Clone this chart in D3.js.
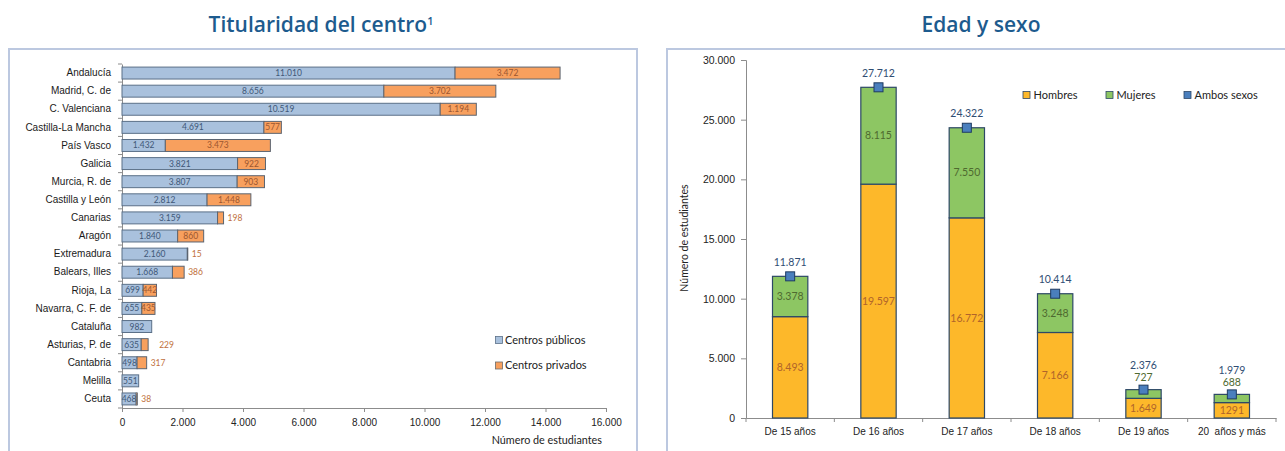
<!DOCTYPE html>
<html>
<head>
<meta charset="utf-8">
<script src="https://cdn.jsdelivr.net/npm/d3@7"></script>
<style>
  body { margin: 0; background: #fff; }
  svg { font-family: Lato, "Open Sans", sans-serif; display: block; }
</style>
</head>
<body>
<svg width="1285" height="451"></svg>
<script>
// left chart: titularidad del centro
var regions = ['Andalucía', 'Madrid, C. de', 'C. Valenciana', 'Castilla-La Mancha', 'País Vasco',
  'Galicia', 'Murcia, R. de', 'Castilla y León', 'Canarias', 'Aragón', 'Extremadura',
  'Balears, Illes', 'Rioja, La', 'Navarra, C. F. de', 'Cataluña', 'Asturias, P. de',
  'Cantabria', 'Melilla', 'Ceuta'];
var publicos = [11010, 8656, 10519, 4691, 1432, 3821, 3807, 2812, 3159, 1840, 2160, 1668, 699, 655, 982, 635, 498, 551, 468];
var privados = [3472, 3702, 1194, 577, 3473, 922, 903, 1448, 198, 860, 15, 386, 442, 435, 0, 229, 317, 0, 38];
var xTicks = [0, 2000, 4000, 6000, 8000, 10000, 12000, 14000, 16000];

// right chart: edad y sexo
var ages = ['De 15 años', 'De 16 años', 'De 17 años', 'De 18 años', 'De 19 años', '20  años y más'];
var hombres = [8493, 19597, 16772, 7166, 1649, 1291];
var hombresLabels = ['8.493', '19.597', '16.772', '7.166', '1.649', '1291'];
var mujeres = [3378, 8115, 7550, 3248, 727, 688];
var ambos = [11871, 27712, 24322, 10414, 2376, 1979];
var yTicks = [0, 5000, 10000, 15000, 20000, 25000, 30000];

var fmt = d3.formatLocale({ decimal: ',', thousands: '.', grouping: [3], currency: ['', '€'] }).format(',d');

var svg = d3.select('svg');

// panel frames
svg.append('rect').attr('x', 9).attr('y', 49).attr('width', 628).attr('height', 420)
  .attr('fill', 'none').attr('stroke', '#bcc8e0').attr('stroke-width', 2);
svg.append('rect').attr('x', 667).attr('y', 49).attr('width', 640).attr('height', 420)
  .attr('fill', 'none').attr('stroke', '#bcc8e0').attr('stroke-width', 2);

svg.append('text').attr('x', 321).attr('y', 32).attr('text-anchor', 'middle')
  .style('font-family', '"Open Sans", sans-serif')
  .style('font-size', '21px').style('font-weight', '600').attr('fill', '#1d5b8e')
  .text('Titularidad del centro')
  .append('tspan').attr('dy', -7).style('font-size', '11px').text('1');

svg.append('text').attr('x', 981).attr('y', 32).attr('text-anchor', 'middle')
  .style('font-family', '"Open Sans", sans-serif')
  .style('font-size', '21px').style('font-weight', '600').attr('fill', '#1d5b8e')
  .text('Edad y sexo');

// ---------- left chart ----------
var xScale = d3.scaleLinear().domain([0, 16000]).range([122, 606]);
var yBand = d3.scaleBand().domain(regions).range([64, 408]).paddingInner(0.34).paddingOuter(0.17);

var xAxis = d3.axisBottom(xScale).tickValues(xTicks).tickFormat(fmt).tickSize(4).tickSizeOuter(0);
var gx = svg.append('g').attr('transform', 'translate(0,408)').call(xAxis);
gx.select('.domain').attr('stroke', '#8c8c8c');
gx.selectAll('.tick line').attr('stroke', '#8c8c8c');
gx.selectAll('.tick text').attr('fill', '#222').style('font-size', '10px').attr('dy', '1.1em');

var yAxis = d3.axisLeft(yBand).tickSize(0).tickPadding(11);
var gy = svg.append('g').attr('transform', 'translate(122,0)').call(yAxis);
gy.select('.domain').attr('stroke', '#8c8c8c');
gy.selectAll('.tick text').attr('fill', '#1a1a1a').style('font-size', '10px');
// ticks between categories
var step = yBand.step();
svg.append('g').selectAll('line')
  .data(d3.range(regions.length + 1))
  .enter().append('line')
  .attr('x1', 118).attr('x2', 122)
  .attr('y1', i => 64 + i * step).attr('y2', i => 64 + i * step)
  .attr('stroke', '#8c8c8c');

var rows = regions.map((r, i) => ({ r: r, pub: publicos[i], priv: privados[i] }));

var bars = svg.append('g');
bars.selectAll('rect.pub').data(rows).enter().append('rect')
  .attr('x', xScale(0)).attr('y', d => yBand(d.r))
  .attr('width', d => xScale(d.pub) - xScale(0)).attr('height', yBand.bandwidth())
  .attr('fill', '#a9c1dd').attr('stroke', '#5b7088').attr('stroke-width', 1);
bars.selectAll('rect.priv').data(rows.filter(d => d.priv > 0)).enter().append('rect')
  .attr('x', d => xScale(d.pub)).attr('y', d => yBand(d.r))
  .attr('width', d => xScale(d.pub + d.priv) - xScale(d.pub)).attr('height', yBand.bandwidth())
  .attr('fill', '#f8a05e').attr('stroke', '#5b6470').attr('stroke-width', 1);

bars.selectAll('text.pub').data(rows).enter().append('text')
  .attr('x', d => (xScale(0) + xScale(d.pub)) / 2)
  .attr('y', d => yBand(d.r) + yBand.bandwidth() / 2).attr('dy', '0.35em')
  .attr('text-anchor', 'middle').style('font-size', '8.5px').attr('fill', '#3f5878')
  .text(d => fmt(d.pub));
bars.selectAll('text.priv').data(rows.filter(d => d.priv > 0)).enter().append('text')
  .attr('x', d => d.priv >= 400 ? (xScale(d.pub) + xScale(d.pub + d.priv)) / 2 : xScale(d.pub + d.priv) + (d.r === 'Asturias, P. de' ? 11 : 4))
  .attr('y', d => yBand(d.r) + yBand.bandwidth() / 2).attr('dy', '0.35em')
  .attr('text-anchor', d => d.priv >= 400 ? 'middle' : 'start')
  .style('font-size', '8.5px').attr('fill', d => d.priv >= 400 ? '#9c5730' : '#c0703c')
  .text(d => fmt(d.priv));

svg.append('text').attr('x', 602).attr('y', 444).attr('text-anchor', 'end')
  .style('font-size', '10.8px').attr('fill', '#222').text('Número de estudiantes');

var legL = svg.append('g');
[['Centros públicos', '#a9c1dd', '#5b7088'], ['Centros privados', '#f8a05e', '#6b6b6b']].forEach((d, i) => {
  var yy = 340 + i * 25.5;
  legL.append('rect').attr('x', 495.5).attr('y', yy - 3.5).attr('width', 7).attr('height', 7)
    .attr('fill', d[1]).attr('stroke', d[2]).attr('stroke-width', 0.8);
  legL.append('text').attr('x', 505).attr('y', yy).attr('dy', '0.35em')
    .style('font-size', '11px').attr('fill', '#222').text(d[0]);
});

// ---------- right chart ----------
var xBand = d3.scaleBand().domain(ages).range([746, 1276]).paddingInner(0.6).paddingOuter(0.3);
var yScale = d3.scaleLinear().domain([0, 30000]).range([418, 60]);

var rAxisY = d3.axisLeft(yScale).tickValues(yTicks).tickFormat(fmt).tickSize(5).tickPadding(6);
var ry = svg.append('g').attr('transform', 'translate(746,0)').call(rAxisY);
ry.select('.domain').attr('stroke', '#8c8c8c');
ry.selectAll('.tick line').attr('stroke', '#8c8c8c');
ry.selectAll('.tick text').attr('fill', '#222').style('font-size', '10.5px');

var rAxisX = d3.axisBottom(xBand).tickSize(0).tickPadding(10);
var rx = svg.append('g').attr('transform', 'translate(0,418)').call(rAxisX);
rx.select('.domain').attr('stroke', '#8c8c8c');
rx.selectAll('.tick text').attr('fill', '#222').style('font-size', '10px').style('white-space', 'pre');
var bstep = xBand.step();
svg.append('g').selectAll('line')
  .data(d3.range(ages.length + 1))
  .enter().append('line')
  .attr('x1', i => 746 + i * bstep).attr('x2', i => 746 + i * bstep)
  .attr('y1', 418).attr('y2', 422)
  .attr('stroke', '#8c8c8c');

svg.append('text').attr('transform', 'rotate(-90)')
  .attr('x', -238).attr('y', 688).attr('text-anchor', 'middle')
  .style('font-size', '10.5px').attr('fill', '#222').text('Número de estudiantes');

var cols = ages.map((a, i) => ({ a: a, h: hombres[i], hl: hombresLabels[i], m: mujeres[i], t: ambos[i] }));
var g2 = svg.append('g');
g2.selectAll('rect.h').data(cols).enter().append('rect')
  .attr('x', d => xBand(d.a)).attr('width', xBand.bandwidth())
  .attr('y', d => yScale(d.h)).attr('height', d => yScale(0) - yScale(d.h))
  .attr('fill', '#fdb82a').attr('stroke', '#2d4866').attr('stroke-width', 1.2);
g2.selectAll('rect.m').data(cols).enter().append('rect')
  .attr('x', d => xBand(d.a)).attr('width', xBand.bandwidth())
  .attr('y', d => yScale(d.h + d.m)).attr('height', d => yScale(d.h) - yScale(d.h + d.m))
  .attr('fill', '#8dc663').attr('stroke', '#2d4866').attr('stroke-width', 1.2);

var cx = d => xBand(d.a) + xBand.bandwidth() / 2;
g2.selectAll('text.h').data(cols).enter().append('text')
  .attr('x', cx).attr('y', d => yScale(d.h / 2)).attr('dy', '0.35em')
  .attr('text-anchor', 'middle').style('font-size', '10.5px').attr('fill', '#b0642a')
  .text(d => d.hl);
g2.selectAll('text.m').data(cols).enter().append('text')
  .attr('x', cx)
  .attr('y', d => d.m < 1000 ? yScale(d.t) - 12 : yScale(d.h + d.m / 2)).attr('dy', '0.35em')
  .attr('text-anchor', 'middle').style('font-size', '10.5px').attr('fill', '#4f6a30')
  .text(d => fmt(d.m));
g2.selectAll('rect.t').data(cols).enter().append('rect')
  .attr('x', d => cx(d) - 4.5).attr('y', d => yScale(d.t) - 4.5)
  .attr('width', 9).attr('height', 9)
  .attr('fill', '#4a7fbd').attr('stroke', '#1e3b62').attr('stroke-width', 1);
g2.selectAll('text.t').data(cols).enter().append('text')
  .attr('x', cx)
  .attr('y', d => d.m < 1000 ? yScale(d.t) - 24 : yScale(d.t) - 14).attr('dy', '0.35em')
  .attr('text-anchor', 'middle').style('font-size', '10.5px').attr('fill', '#2f4d73')
  .text(d => fmt(d.t));

var legR = svg.append('g');
[['Hombres', '#fdb82a', 1026.5], ['Mujeres', '#8dc663', 1109.5], ['Ambos sexos', '#4a7fbd', 1187.5]].forEach(d => {
  legR.append('rect').attr('x', d[2] - 3.5).attr('y', 91.5).attr('width', 7).attr('height', 7)
    .attr('fill', d[1]).attr('stroke', '#2d4866').attr('stroke-width', 0.8);
  legR.append('text').attr('x', d[2] + 7).attr('y', 95).attr('dy', '0.35em')
    .style('font-size', '11px').attr('fill', '#222').text(d[0]);
});
</script>
</body>
</html>
